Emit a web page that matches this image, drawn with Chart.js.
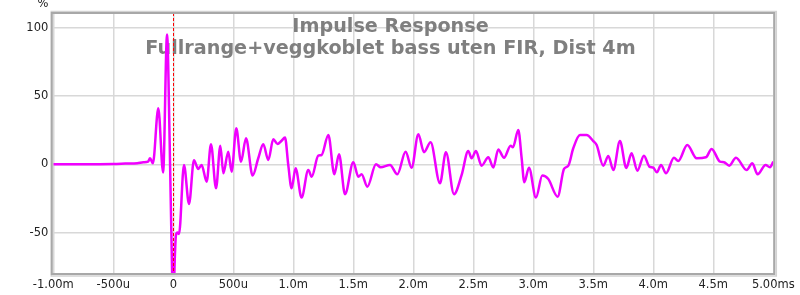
<!DOCTYPE html>
<html>
<head>
<meta charset="utf-8">
<script src="https://cdn.jsdelivr.net/npm/chart.js@4/dist/chart.umd.min.js"></script>
<style>
  html, body { margin: 0; padding: 0; background: #fff; }
  #wrap { width: 800px; height: 295px; }
</style>
</head>
<body>
<div id="wrap"><canvas id="chart" width="800" height="295"></canvas></div>
<script>
const titleLines = ['Impulse Response', 'Fullrange+veggkoblet bass uten FIR, Dist 4m'];
const yUnit = '%';

const xTickValues = [-1, -0.5, 0, 0.5, 1, 1.5, 2, 2.5, 3, 3.5, 4, 4.5, 5];
const xTickLabels = ['-1.00m', '-500u', '0', '500u', '1.0m', '1.5m', '2.0m', '2.5m', '3.0m', '3.5m', '4.0m', '4.5m', '5.00ms'];
const yTickValues = [-50, 0, 50, 100];
const yTickLabels = ['-50', '0', '50', '100'];

// time in ms, amplitude in %
const timeMs = [
  -1.0, -0.75, -0.5, -0.4, -0.3, -0.25, -0.21, -0.194, -0.17,
  -0.125, -0.085, -0.052, -0.03, -0.012, 0.0, 0.012, 0.022, 0.035, 0.048,
  0.089, 0.131, 0.172, 0.208, 0.236, 0.278, 0.314, 0.356, 0.392, 0.417,
  0.458, 0.486, 0.525, 0.564, 0.606, 0.661, 0.708, 0.75, 0.792, 0.833,
  0.869, 0.9, 0.931, 0.958, 0.986, 1.019, 1.069, 1.125, 1.153, 1.208,
  1.236, 1.292, 1.342, 1.381, 1.431, 1.5, 1.542, 1.569, 1.617, 1.689,
  1.728, 1.806, 1.867, 1.936, 1.986, 2.042, 2.089, 2.144, 2.222, 2.272,
  2.339, 2.403, 2.458, 2.486, 2.522, 2.569, 2.625, 2.667, 2.708, 2.756,
  2.811, 2.83, 2.875, 2.903, 2.925, 2.964, 3.022, 3.075, 3.125, 3.203,
  3.256, 3.292, 3.333, 3.389, 3.444, 3.5, 3.528, 3.583, 3.625, 3.667,
  3.722, 3.775, 3.819, 3.867, 3.922, 3.967, 4.0, 4.03, 4.064, 4.106,
  4.172, 4.208, 4.283, 4.361, 4.439, 4.486, 4.556, 4.589, 4.633, 4.689,
  4.778, 4.825, 4.869, 4.936, 4.972, 5.0
];
const amplitude = [
  0, 0, 0.2, 0.5, 0.8, 1.5, 2, 4.4, 0.7,
  41, -6, 95, 15, -70, -105, -70, -52, -50, -51,
  -0.5, -29, 3, -3.4, -0.5, -12.7, 14.6, -17.6, 13.6, -6.6,
  9.2, -5.4, 26.3, 1.9, 19, -8.3, 4.4, 14.6, 3.1, 18.3,
  14.8, 17, 19.5, -0.5, -17.6, -2.9, -24.4, -4.2, -9.1, 6.3,
  6.8, 21.4, -7.3, 7.3, -21.9, 1.5, -9.1, -7.3, -16.4, 0,
  -2.2, -0.5, -7.3, 9.2, -2.5, 21.9, 8.8, 16.1, -13.9, 8.8,
  -21.9, -7.8, 9.7, 4.4, 9.7, -1, 5.1, -2.4, 10.8, 4.8,
  13.6, 12.4, 25.1, 4.4, -13.2, -2.5, -24.4, -8.3, -10.8, -23.7,
  -3.4, -1, 11.7, 21.4, 21.4, 17, 14.1, -1, 6.1, -4.2,
  17, -2.7, 8, -4.7, 6.3, -1.7, -2.5, -5.9, -0.5, -6.6,
  4.8, 2.4, 14.1, 4.4, 5.1, 11.2, 1.9, 1.5, -1, 4.8,
  -4.2, 0.7, -7.3, -0.5, -2.2, 1.9
];

const points = timeMs.map((t, i) => ({ x: t, y: amplitude[i] }));

const decorPlugin = {
  id: 'decor',
  beforeDatasetsDraw(chart) {
    const ctx = chart.ctx;
    ctx.save();
    ctx.fillStyle = '#7f7f7f';
    ctx.font = 'bold 19.2px "DejaVu Sans"';
    ctx.textAlign = 'center';
    ctx.textBaseline = 'alphabetic';
    ctx.fillText(titleLines[0], 390.5, 31.5);
    ctx.fillText(titleLines[1], 390.5, 54);
    ctx.restore();
  },
  afterDatasetsDraw(chart) {
    const ctx = chart.ctx;
    const a = chart.chartArea;
    const x0 = chart.scales.x.getPixelForValue(0);
    ctx.save();
    ctx.strokeStyle = '#ff0000';
    ctx.lineWidth = 1;
    ctx.setLineDash([3, 2]);
    ctx.beginPath();
    ctx.moveTo(Math.round(x0) + 0.5, a.top);
    ctx.lineTo(Math.round(x0) + 0.5, a.bottom);
    ctx.stroke();
    ctx.setLineDash([]);

    ctx.strokeStyle = '#d2d2d2';
    ctx.lineWidth = 1.5;
    ctx.strokeRect(a.left - 2, a.top - 1.5, a.right - a.left + 5, a.bottom - a.top + 3.5);
    ctx.strokeStyle = '#a8a8a8';
    ctx.lineWidth = 2;
    ctx.strokeRect(a.left - 1.5, a.top, a.right - a.left + 2.5, a.bottom - a.top);

    ctx.fillStyle = '#222';
    ctx.font = '11.5px "DejaVu Sans"';
    ctx.textAlign = 'center';
    ctx.textBaseline = 'middle';
    ctx.fillText(yUnit, 43, 4);
    ctx.restore();
  }
};

new Chart(document.getElementById('chart'), {
  type: 'line',
  data: {
    datasets: [{
      data: points,
      borderColor: '#f000ff',
      borderWidth: 2.5,
      pointRadius: 0,
      fill: false,
      cubicInterpolationMode: 'monotone'
    }]
  },
  options: {
    responsive: false,
    animation: false,
    events: [],
    layout: { padding: { left: 0, top: 13, right: 26.7, bottom: 0 } },
    plugins: {
      legend: { display: false },
      tooltip: { enabled: false },
      title: { display: false }
    },
    scales: {
      x: {
        type: 'linear',
        min: -1,
        max: 5,
        afterFit: s => { s.height = 21; },
        afterBuildTicks: s => { s.ticks = xTickValues.map(v => ({ value: v })); },
        border: { display: false },
        grid: { color: '#d8d8d8', lineWidth: 1.5, drawTicks: false },
        ticks: {
          autoSkip: false,
          maxRotation: 0,
          padding: 4,
          color: '#222',
          font: { family: 'DejaVu Sans', size: 11.5 },
          callback: (v, i) => xTickLabels[i]
        }
      },
      y: {
        type: 'linear',
        min: -80.3,
        max: 110.7,
        afterFit: s => { s.width = 53.3; },
        afterBuildTicks: s => { s.ticks = yTickValues.map(v => ({ value: v })); },
        border: { display: false },
        grid: { color: '#d8d8d8', lineWidth: 1.5, drawTicks: false },
        ticks: {
          padding: 5,
          color: '#222',
          font: { family: 'DejaVu Sans', size: 11.5 },
          callback: (v, i) => yTickLabels[i]
        }
      }
    }
  },
  plugins: [decorPlugin]
});
</script>
</body>
</html>
